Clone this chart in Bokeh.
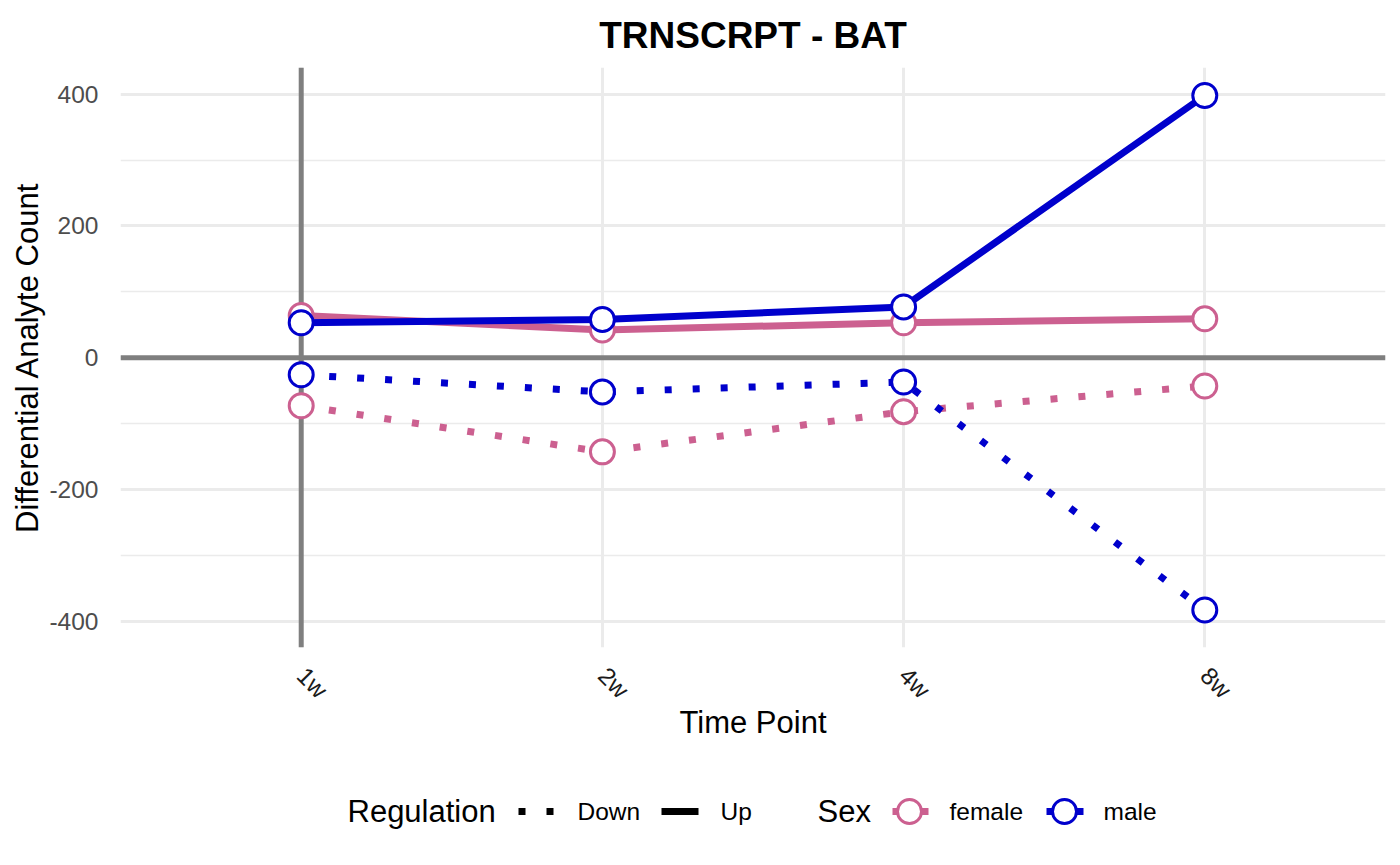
import math
from bokeh.plotting import figure
from bokeh.models import Range1d, FixedTicker, Span, Title
from bokeh.layouts import column
from bokeh.embed import file_html
from bokeh.resources import INLINE
from bokeh.core.properties import value

# ---- data ----
times = ["1w", "2w", "4w", "8w"]
female_up = [64, 42, 53, 59]
female_down = [-73, -143, -82, -43]
male_up = [53, 58, 77, 398]
male_down = [-26, -52, -37, -383]

y_ticks = [-400, -200, 0, 200, 400]
y_minor = [-300, -100, 100, 300]

FEMALE = "#CC6090"
MALE = "#0000CC"
FONT = "Liberation Sans"

xs = list(range(1, len(times) + 1))

FRAME_L, FRAME_R = 120, 1385

p = figure(width=1400, height=760, output_backend="svg", toolbar_location=None,
           x_range=Range1d(0.4, 4.6), y_range=Range1d(-440, 440.5),
           min_border_left=FRAME_L, min_border_right=1400 - FRAME_R, min_border_top=67,
           min_border_bottom=113)
p.outline_line_color = None
p.background_fill_color = "white"
p.border_fill_color = "white"

p.title = Title(text="TRNSCRPT - BAT", align="center", text_font=FONT,
                text_font_size="37px", text_font_style="bold", text_color="black",
                standoff=24)

# axes
p.xaxis.ticker = FixedTicker(ticks=xs)
p.xaxis.major_label_overrides = {x: t for x, t in zip(xs, times)}
p.xaxis.major_label_orientation = -math.pi / 4
p.yaxis.ticker = FixedTicker(ticks=y_ticks, minor_ticks=y_minor)
p.yaxis.major_label_overrides = {t: str(t) for t in y_ticks}
for ax in (p.xaxis, p.yaxis):
    ax.axis_line_color = None
    ax.major_tick_line_color = None
    ax.minor_tick_line_color = None
    ax.major_label_text_font = FONT
    ax.major_label_text_font_size = "24.5px"
    ax.axis_label_text_font = FONT
    ax.axis_label_text_font_size = "31px"
    ax.axis_label_text_font_style = "normal"
    ax.axis_label_text_color = "black"
p.xaxis.major_label_text_color = "#1A1A1A"
p.yaxis.major_label_text_color = "#4D4D4D"
p.xaxis.axis_label = "Time Point"
p.yaxis.axis_label = "Differential Analyte Count"
p.yaxis.major_label_standoff = 16
p.yaxis.axis_label_standoff = 1
p.xaxis.major_label_standoff = 18
p.xaxis.axis_label_standoff = -11

# grids
p.xgrid.grid_line_color = "#EBEBEB"
p.xgrid.grid_line_width = 3
p.ygrid.grid_line_color = "#EBEBEB"
p.ygrid.grid_line_width = 3
p.ygrid.minor_grid_line_color = "#EBEBEB"
p.ygrid.minor_grid_line_width = 1.5

# reference lines
p.add_layout(Span(location=0, dimension="width", line_color="#7F7F7F",
                  line_width=5, level="underlay"))
p.add_layout(Span(location=xs[0], dimension="height", line_color="#7F7F7F",
                  line_width=5, level="underlay"))

DOT = "7 21"
series = [
    (female_down, FEMALE, DOT),
    (female_up, FEMALE, "solid"),
    (male_down, MALE, DOT),
    (male_up, MALE, "solid"),
]
for ys, col, dash in series:
    p.line(xs, ys, line_color=col, line_width=7, line_dash=dash, line_cap="butt")

for ys, col in [(female_down, FEMALE), (female_up, FEMALE),
                (male_down, MALE), (male_up, MALE)]:
    p.scatter(xs, ys, size=24, fill_color="white", line_color=col, line_width=3)

# ---- legend strip (frame aligned with the main frame; x in page pixels) ----
LH = 105
L = figure(width=1400, height=LH, output_backend="svg", toolbar_location=None,
           x_range=Range1d(FRAME_L, FRAME_R), y_range=Range1d(0, LH),
           min_border_left=FRAME_L, min_border_right=1400 - FRAME_R,
           min_border_top=0, min_border_bottom=0)
L.axis.visible = False
L.grid.visible = False
L.outline_line_color = None
yc = 54

def txt(x, s, size):
    L.text(x=[x], y=[yc], text=[s], text_font=value(FONT), text_font_size=size,
           text_baseline="middle", text_color="black")

txt(347, "Regulation", "31px")
L.line([518, 553], [yc, yc], line_color="black", line_width=7, line_dash=DOT,
       line_cap="butt")
txt(577, "Down", "24.5px")
L.line([661, 698], [yc, yc], line_color="black", line_width=7, line_cap="butt")
txt(720, "Up", "24.5px")

txt(817, "Sex", "31px")
for (x0, x1, cx, lab, lx, col) in [(892, 928, 909, "female", 949, FEMALE),
                                   (1046, 1083, 1064, "male", 1103, MALE)]:
    L.line([x0, x1], [yc, yc], line_color=col, line_width=7, line_cap="butt")
    L.scatter([cx], [yc], size=24, fill_color="white", line_color=col, line_width=3)
    txt(lx, lab, "24.5px")

layout = column(p, L, spacing=0)
open("out.html", "w").write(file_html(layout, INLINE))
